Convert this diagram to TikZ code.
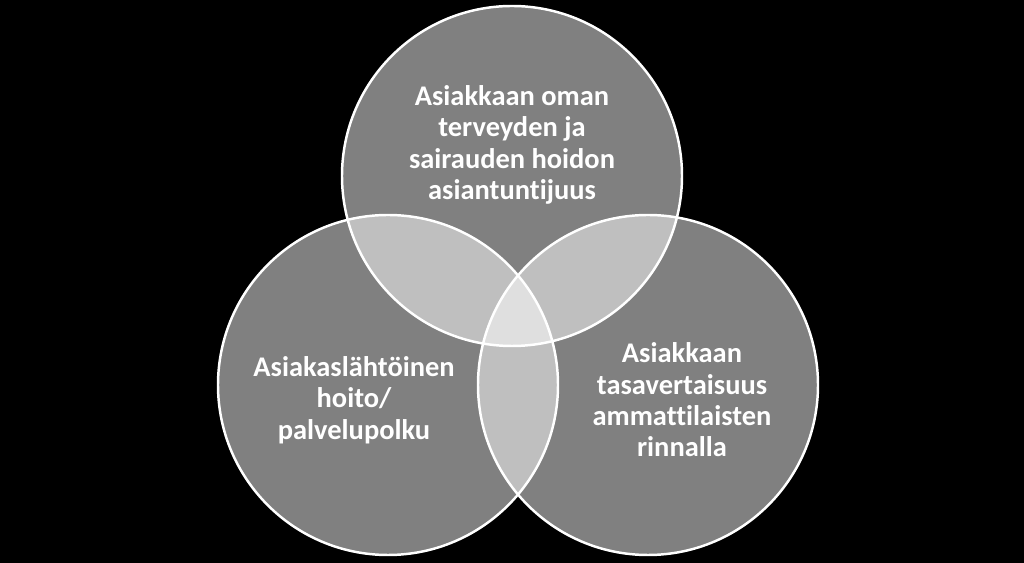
\documentclass[tikz,border=0pt]{standalone}
\usepackage{fontspec}
\setmainfont{Carlito}[Ligatures=NoCommon]

\begin{document}
\begin{tikzpicture}[
  set/.style={fill=white, fill opacity=0.5, draw=white, draw opacity=1, line width=1.4pt},
  label/.style={text=white, align=center, font=\bfseries\fontsize{16.2}{17.8}\selectfont}
]

\fill [black] (0,0) rectangle (20.48,11.26);
\useasboundingbox (0,0) rectangle (20.48,11.26);

\draw [set] (10.24,7.74) circle (3.4);
\draw [set] (7.76,3.56) circle (3.4);
\draw [set] (12.96,3.56) circle (3.4);

\node [label] (expert) at (10.24,8.36) {Asiakkaan oman\\terveyden ja\\sairauden hoidon\\asiantuntijuus};
\node [label] (path) at (7.08,3.26) {Asiakaslähtöinen\\hoito/\\palvelupolku};
\node [label] (equal) at (13.64,3.26) {Asiakkaan\\tasavertaisuus\\ammattilaisten\\rinnalla};

\end{tikzpicture}
\end{document}
